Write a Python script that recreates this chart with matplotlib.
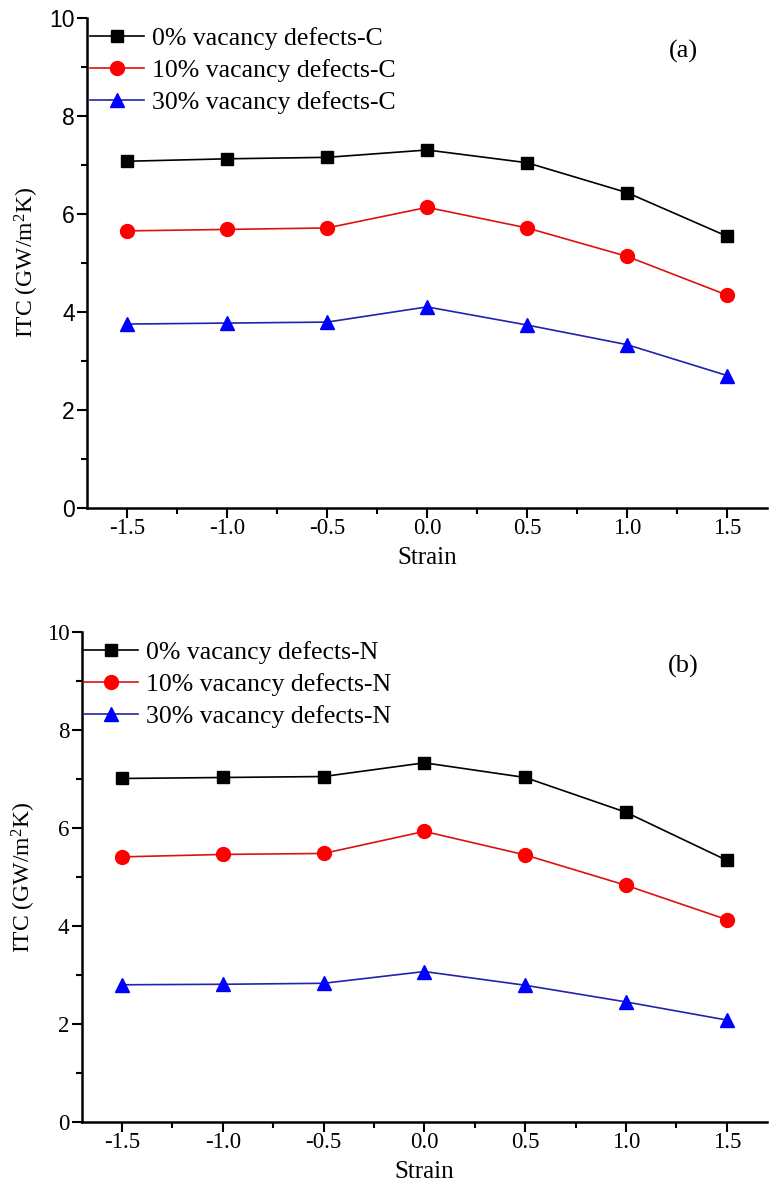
import matplotlib
matplotlib.use('Agg')
import matplotlib.pyplot as plt
from matplotlib.ticker import MultipleLocator

# strain values and ITC (GW/m2K)
strain = [-1.5, -1.0, -0.5, 0.0, 0.5, 1.0, 1.5]

itc_c_0 = [7.07, 7.12, 7.15, 7.30, 7.04, 6.43, 5.54]
itc_c_10 = [5.65, 5.68, 5.71, 6.13, 5.71, 5.13, 4.34]
itc_c_30 = [3.75, 3.77, 3.79, 4.10, 3.73, 3.33, 2.70]

itc_n_0 = [7.01, 7.03, 7.05, 7.33, 7.03, 6.32, 5.34]
itc_n_10 = [5.41, 5.46, 5.48, 5.93, 5.45, 4.83, 4.13]
itc_n_30 = [2.80, 2.81, 2.83, 3.07, 2.79, 2.45, 2.08]

labels_c = ['0% vacancy defects-C', '10% vacancy defects-C', '30% vacancy defects-C']
labels_n = ['0% vacancy defects-N', '10% vacancy defects-N', '30% vacancy defects-N']

serif = 'Liberation Serif'
sans = 'Liberation Sans'

plt.rcParams['mathtext.fontset'] = 'custom'
plt.rcParams['mathtext.rm'] = serif
plt.rcParams['mathtext.it'] = serif

fig = plt.figure(figsize=(7.78, 11.96), dpi=100)
ax1 = fig.add_axes([0.112, 0.5753, 0.874, 0.41])
ax2 = fig.add_axes([0.105, 0.0619, 0.881, 0.4097])


def draw_panel(ax, ys, labels, tag, ytick_font):
    styles = [('s', 'black', 'black', 8.5),
              ('o', 'red', '#dd1111', 10),
              ('^', 'blue', '#2222aa', 10)]
    for y, lab, (m, mc, lc, ms) in zip(ys, labels, styles):
        ax.plot(strain, y, color=lc, lw=1.2, marker=m, ms=ms,
                mfc=mc, mec=mc, label=lab)

    ax.set_xlim(-1.7, 1.7)
    ax.set_ylim(0, 10)
    ax.xaxis.set_minor_locator(MultipleLocator(0.25))
    ax.yaxis.set_minor_locator(MultipleLocator(1))
    ax.set_xticks(strain)
    ax.set_xticklabels(['%.1f' % s for s in strain], fontfamily=serif, fontsize=16.5)
    yt = [0, 2, 4, 6, 8, 10]
    ax.set_yticks(yt)
    ax.set_yticklabels([str(v) for v in yt], fontfamily=ytick_font, fontsize=16.5)

    for side in ['top', 'right']:
        ax.spines[side].set_visible(False)
    for side in ['left', 'bottom']:
        ax.spines[side].set_linewidth(1.8)
    ax.tick_params(which='major', direction='out', length=7, width=1.5, pad=2)
    ax.tick_params(axis='x', pad=0)
    ax.tick_params(which='minor', direction='out', length=4, width=1.5)

    ax.set_xlabel('Strain', fontfamily=serif, fontsize=18, labelpad=6)
    ax.set_ylabel(r'ITC (GW/m$^2$K)', fontfamily=serif, fontsize=17, labelpad=6)

    ax.legend(loc='upper left', bbox_to_anchor=(-0.03, 1.028), frameon=False,
              prop={'family': serif, 'size': 18.5}, handlelength=2.1,
              handletextpad=0.3, labelspacing=0.35)
    ax.text(0.877, 0.93, tag, transform=ax.transAxes, fontfamily=serif,
            fontsize=19, ha='center', va='center')


draw_panel(ax1, [itc_c_0, itc_c_10, itc_c_30], labels_c, '(a)', sans)
draw_panel(ax2, [itc_n_0, itc_n_10, itc_n_30], labels_n, '(b)', serif)

fig.savefig('out.png', dpi=100)
